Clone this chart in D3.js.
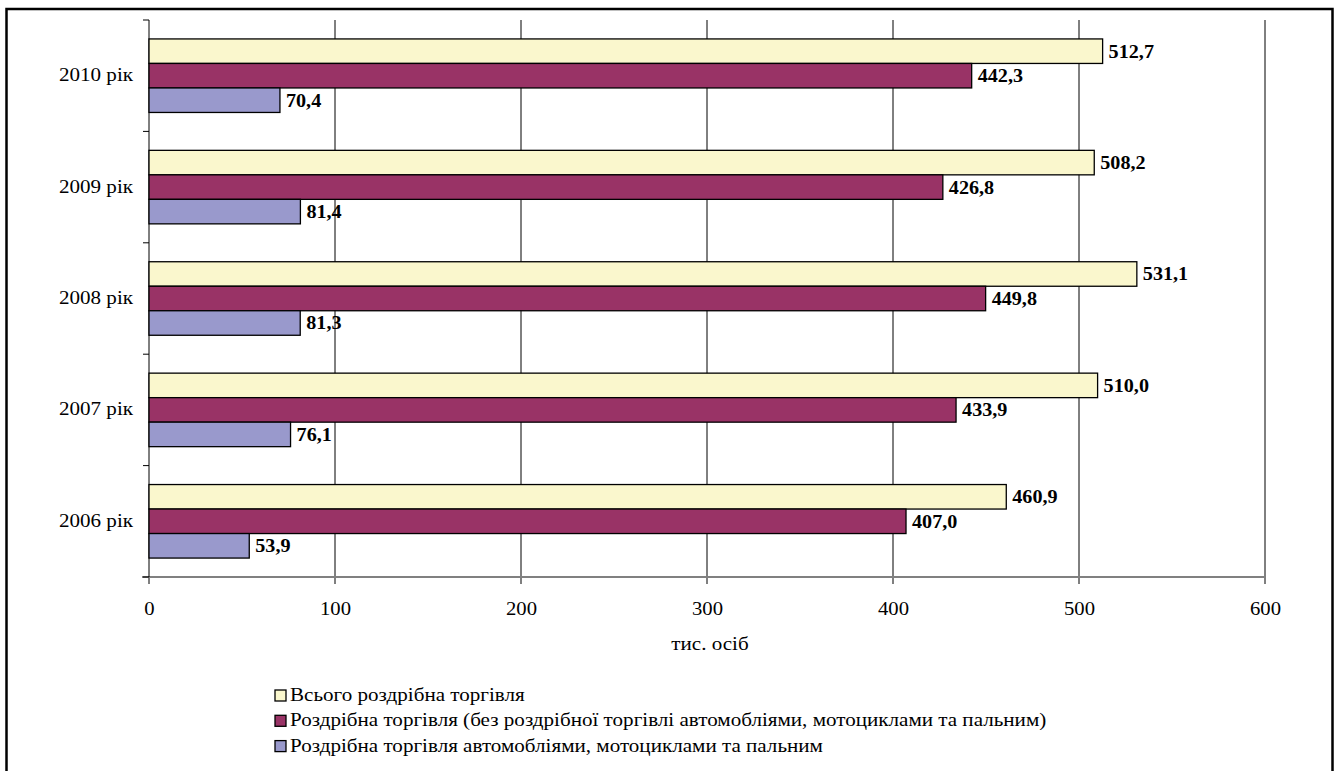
<!DOCTYPE html>
<html>
<head>
<meta charset="utf-8">
<script src="https://cdn.jsdelivr.net/npm/d3@7/dist/d3.min.js"></script>
<style>
  body { margin: 0; background: #fff; }
  svg text { font-family: "Liberation Serif", "Times New Roman", serif !important; }
</style>
</head>
<body>
<div id="chart"></div>
<script>
// categories top to bottom
var years = ["2010 рік", "2009 рік", "2008 рік", "2007 рік", "2006 рік"];
var seriesNames = [
    "Всього роздрібна торгівля",
    "Роздрібна торгівля (без роздрібної торгівлі автомобліями, мотоциклами та пальним)",
    "Роздрібна торгівля автомобліями, мотоциклами та пальним"
];
var totalRetail = [512.7, 508.2, 531.1, 510.0, 460.9];
var retailNoAuto = [442.3, 426.8, 449.8, 433.9, 407.0];
var autoRetail = [70.4, 81.4, 81.3, 76.1, 53.9];
var xTicks = [0, 100, 200, 300, 400, 500, 600];
var colors = ["#FAF7CD", "#993366", "#9999CC"];

var seriesValues = [totalRetail, retailNoAuto, autoRetail];

var serif = "'Liberation Serif', 'Times New Roman', serif";
// the original picture is a bit stretched sideways
var stretchText = 1.14;
var stretchNum = 1.09;

var svgWidth = 1336;
var svgHeight = 771;

var margin = { top: 20, left: 149, right: 71, bottom: 194 };
var chartWidth = svgWidth - margin.left - margin.right;
var chartHeight = svgHeight - margin.top - margin.bottom;

var svg = d3.select("#chart")
    .append("svg")
    .attr("width", svgWidth)
    .attr("height", svgHeight)
    .attr("font-family", serif);

// outer frame
svg.append("rect")
    .attr("x", 6.5)
    .attr("y", 9)
    .attr("width", 1326)
    .attr("height", 770)
    .attr("fill", "none")
    .attr("stroke", "#000")
    .attr("stroke-width", 2.5);

var chartGroup = svg.append("g")
    .attr("transform", `translate(${margin.left}, ${margin.top})`);

var xScale = d3.scaleLinear()
    .domain([0, 600])
    .range([0, chartWidth]);

var yScale = d3.scaleBand()
    .domain(years)
    .range([0, chartHeight])
    .paddingInner(0.34)
    .paddingOuter(0.17);

var barScale = d3.scaleBand()
    .domain([0, 1, 2])
    .range([0, yScale.bandwidth()]);

// grid lines + x ticks
chartGroup.selectAll(".grid")
    .data(xTicks)
    .enter()
    .append("line")
    .attr("x1", d => xScale(d))
    .attr("x2", d => xScale(d))
    .attr("y1", d => d === 0 ? chartHeight : 0)
    .attr("y2", chartHeight + 7)
    .attr("stroke", "#000")
    .attr("stroke-width", 1);

// x axis
var bottomAxis = d3.axisBottom(xScale)
    .tickValues(xTicks)
    .tickSize(0)
    .tickPadding(25);

var xAxisG = chartGroup.append("g")
    .attr("transform", `translate(0, ${chartHeight})`)
    .call(bottomAxis)
    .attr("font-family", serif)
    .attr("font-size", 19);
xAxisG.select(".domain").remove();
xAxisG.selectAll("text")
    .attr("fill", "#000")
    .attr("transform", `scale(${stretchNum},1)`);

chartGroup.append("line")
    .attr("x1", -7)
    .attr("x2", chartWidth)
    .attr("y1", chartHeight)
    .attr("y2", chartHeight)
    .attr("stroke", "#808080")
    .attr("stroke-width", 2);

// y axis: ticks at band boundaries
var step = chartHeight / years.length;
var boundaries = d3.range(years.length + 1).map(i => i * step);

chartGroup.append("line")
    .attr("x1", 0).attr("x2", 0)
    .attr("y1", 0).attr("y2", chartHeight)
    .attr("stroke", "#000");

chartGroup.selectAll(".ytick")
    .data(boundaries)
    .enter()
    .append("line")
    .attr("x1", -6)
    .attr("x2", 0)
    .attr("y1", d => d)
    .attr("y2", d => d)
    .attr("stroke", "#000");

chartGroup.selectAll(".ylabel")
    .data(years)
    .enter()
    .append("text")
    .attr("transform", d => `translate(-16, ${yScale(d) + yScale.bandwidth() / 2}) scale(${stretchText},1)`)
    .attr("dy", "0.3em")
    .attr("text-anchor", "end")
    .attr("font-size", "18.5px")
    .text(d => d);

// bars
seriesValues.forEach(function(values, s) {
    var g = chartGroup.append("g");
    g.selectAll("rect")
        .data(values)
        .enter()
        .append("rect")
        .attr("x", 0)
        .attr("y", (d, i) => yScale(years[i]) + barScale(s))
        .attr("width", d => xScale(d))
        .attr("height", barScale.bandwidth())
        .attr("fill", colors[s])
        .attr("stroke", "#000")
        .attr("stroke-width", 1.3);

    g.selectAll("text")
        .data(values)
        .enter()
        .append("text")
        .attr("transform", (d, i) => `translate(${xScale(d) + 6}, ${yScale(years[i]) + barScale(s) + barScale.bandwidth() / 2}) scale(${stretchNum},1)`)
        .attr("dy", "0.35em")
        .attr("font-size", "18.5px")
        .attr("font-weight", "bold")
        .text(d => d.toFixed(1).replace(".", ","));
});

// axis title
svg.append("text")
    .attr("transform", `translate(${margin.left + chartWidth / 2 + 3}, 650) scale(${stretchText},1)`)
    .attr("text-anchor", "middle")
    .attr("font-size", "18.5px")
    .text("тис. осіб");

// legend
var legend = svg.append("g")
    .attr("transform", "translate(275, 701)");

var items = legend.selectAll("g")
    .data(seriesNames)
    .enter()
    .append("g")
    .attr("transform", (d, i) => `translate(0, ${i * 25.3})`);

items.append("rect")
    .attr("x", 0)
    .attr("y", -11)
    .attr("width", 11)
    .attr("height", 11)
    .attr("fill", (d, i) => colors[i])
    .attr("stroke", "#000")
    .attr("stroke-width", 1.3);

items.append("text")
    .attr("transform", `translate(15, 0) scale(${stretchText},1)`)
    .attr("font-size", "18.5px")
    .text(d => d);
</script>
</body>
</html>
